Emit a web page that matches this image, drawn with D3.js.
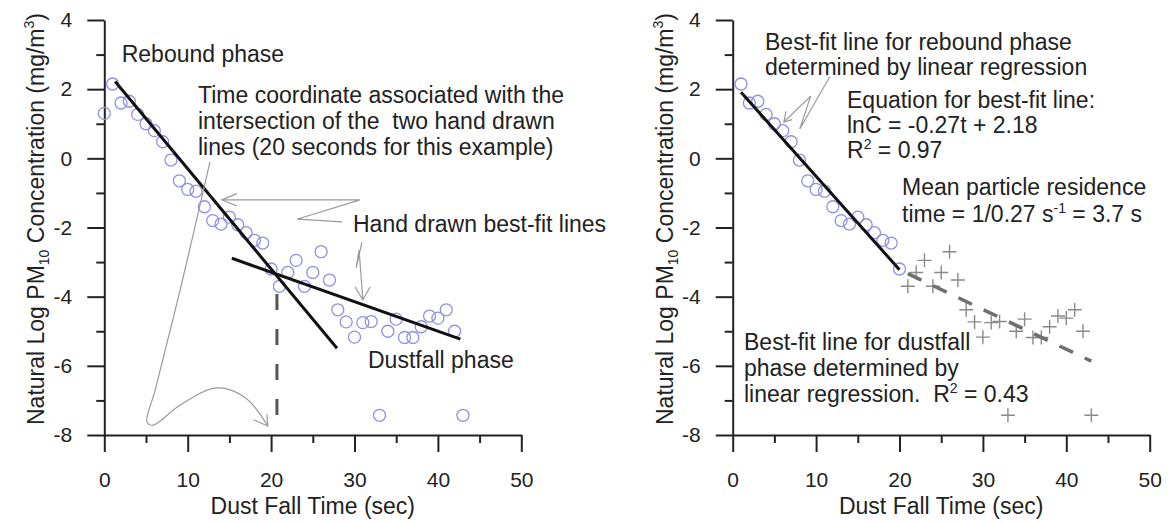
<!DOCTYPE html>
<html>
<head>
<meta charset="utf-8">
<script src="https://cdn.jsdelivr.net/npm/d3@7"></script>
<style>
  body { margin: 0; background: #fff; }
  svg { display: block; font-family: "Liberation Sans", Arial, sans-serif; }
  text { fill: #222; white-space: pre; }
</style>
</head>
<body>
<script>
// ---------------------------------------------------------------------------
// data
// ---------------------------------------------------------------------------
var times = [0, 1, 2, 3, 4, 5, 6, 7, 8, 9, 10, 11, 12, 13, 14, 15, 16, 17, 18, 19, 20, 21,
             22, 23, 24, 25, 26, 27, 28, 29, 30, 31, 32, 33, 34, 35, 36, 37, 38, 39, 40, 41, 42, 43];
var lnConc = [1.3, 2.15, 1.6, 1.65, 1.27, 1.0, 0.8, 0.48, -0.05, -0.65, -0.9, -0.95, -1.4, -1.8,
              -1.9, -1.7, -1.92, -2.15, -2.37, -2.45, -3.2, -3.7, -3.3, -2.95, -3.7, -3.3, -2.7,
              -3.52, -4.38, -4.73, -5.17, -4.75, -4.72, -7.43, -5.0, -4.65, -5.18, -5.18, -4.87,
              -4.56, -4.62, -4.38, -5.0, -7.43];

// hand drawn lines of the left panel (t, lnC end points)
var handRebound = [[1.3, 2.22], [27.9, -5.49]];
var handDustfall = [[15.3, -2.89], [42.7, -5.23]];
var crossTime = 20.7, crossLnC = -3.4;

// regression fits of the right panel
var reboundFit = { slope: -0.27, intercept: 2.18, from: 1, to: 20 };
var dustfallFit = { slope: -0.115, intercept: -0.92, from: 21, to: 43 };

var xTicksMajor = [0, 10, 20, 30, 40, 50], xTicksMinor = [5, 15, 25, 35, 45];
var yTicksMajor = [4, 2, 0, -2, -4, -6, -8], yTicksMinor = [3, 1, -1, -3, -5, -7];

var points = times.map(function(t, i) { return { t: t, c: lnConc[i] }; });

// ---------------------------------------------------------------------------
var width = 1169, height = 523;
var svg = d3.select("body").append("svg")
    .attr("width", width)
    .attr("height", height);

var ink = "#222", noteGrey = "#9a9a9a", circleCol = "#9090e4";

function panel(left) {
  var x = d3.scaleLinear().domain([0, 50]).range([left, left + 417]);
  var y = d3.scaleLinear().domain([4, -8]).range([20, 435]);
  var g = svg.append("g");

  var fmt = function(d) { return String(d); };
  g.append("g").attr("transform", "translate(" + left + ",0)")
      .call(d3.axisLeft(y).tickValues(yTicksMajor).tickSize(17).tickSizeOuter(0).tickPadding(15).tickFormat(fmt));
  g.append("g").attr("transform", "translate(" + left + ",0)")
      .call(d3.axisLeft(y).tickValues(yTicksMinor).tickSize(8).tickFormat(""))
      .select(".domain").remove();
  g.append("g").attr("transform", "translate(0,435)")
      .call(d3.axisBottom(x).tickValues(xTicksMajor).tickSize(17).tickSizeOuter(0).tickPadding(20).tickFormat(fmt));
  g.append("g").attr("transform", "translate(0,435)")
      .call(d3.axisBottom(x).tickValues(xTicksMinor).tickSize(8).tickFormat(""))
      .select(".domain").remove();

  g.selectAll(".domain, .tick line").attr("stroke", ink).attr("stroke-width", 2);
  g.selectAll(".tick text").attr("font-size", 21).attr("fill", ink)
      .attr("font-family", "Liberation Sans, Arial, sans-serif");

  g.append("text")
      .attr("x", x(25)).attr("y", 514)
      .attr("text-anchor", "middle").attr("font-size", 23)
      .text("Dust Fall Time (sec)");

  var yt = g.append("text")
      .attr("transform", "translate(" + (left - 60) + ",219) rotate(-90)")
      .attr("text-anchor", "middle").attr("font-size", 23);
  yt.append("tspan").text("Natural Log PM");
  yt.append("tspan").attr("font-size", 14).attr("dy", 5).text("10");
  yt.append("tspan").attr("dy", -5).text(" Concentration (mg/m");
  yt.append("tspan").attr("font-size", 14).attr("dy", -10).text("3");
  yt.append("tspan").attr("dy", 10).text(")");

  return { g: g, x: x, y: y };
}

function circles(p, data) {
  p.g.append("g").selectAll("circle")
      .data(data)
    .enter().append("circle")
      .attr("cx", function(d) { return p.x(d.t); })
      .attr("cy", function(d) { return p.y(d.c); })
      .attr("r", 6)
      .attr("fill", "none")
      .attr("stroke", circleCol)
      .attr("stroke-width", 1.3);
}

function note(p, pts, barbs) {
  var line = d3.line()
      .x(function(d) { return p.x(d[0]); })
      .y(function(d) { return p.y(d[1]); })
      .curve(d3.curveCatmullRom.alpha(0.5));
  p.g.append("path").attr("d", line(pts))
      .attr("fill", "none").attr("stroke", noteGrey).attr("stroke-width", 1.2);
  var tip = pts[pts.length - 1];
  var straight = d3.line().x(function(d) { return p.x(d[0]); }).y(function(d) { return p.y(d[1]); });
  p.g.append("path").attr("d", straight([barbs[0], tip, barbs[1]]))
      .attr("fill", "none").attr("stroke", noteGrey).attr("stroke-width", 1.2);
}

function polyNote(p, pts, barbs) {
  var straight = d3.line().x(function(d) { return p.x(d[0]); }).y(function(d) { return p.y(d[1]); });
  p.g.append("path").attr("d", straight(pts))
      .attr("fill", "none").attr("stroke", noteGrey).attr("stroke-width", 1.2);
  var tip = pts[pts.length - 1];
  p.g.append("path").attr("d", straight([barbs[0], tip, barbs[1]]))
      .attr("fill", "none").attr("stroke", noteGrey).attr("stroke-width", 1.2);
}

// text line; a {sup: "..."} part is raised and smaller, the next part drops back
function label(g, x, y, parts) {
  var t = g.append("text").attr("x", x).attr("y", y).attr("font-size", 23);
  var drop = 0;
  parts.forEach(function(s) {
    if (typeof s === "string") {
      var sp = t.append("tspan").text(s);
      if (drop) { sp.attr("dy", drop); drop = 0; }
    } else {
      t.append("tspan").attr("font-size", 14).attr("dy", -9).text(s.sup);
      drop = 9;
    }
  });
  return t;
}

// ---------------------------------------------------------------------------
// left panel: hand drawn lines
// ---------------------------------------------------------------------------
var L = panel(104.3);
circles(L, points);

var seg = d3.line().x(function(d) { return L.x(d[0]); }).y(function(d) { return L.y(d[1]); });
[handRebound, handDustfall].forEach(function(h) {
  L.g.append("path").attr("d", seg(h))
      .attr("stroke", "#111").attr("stroke-width", 3).attr("fill", "none");
});
L.g.append("line")
    .attr("x1", L.x(crossTime)).attr("x2", L.x(crossTime))
    .attr("y1", L.y(crossLnC)).attr("y2", L.y(-8) - 2)
    .attr("stroke", "#555").attr("stroke-width", 3)
    .attr("stroke-dasharray", "16,19").attr("stroke-dashoffset", -18);

note(L, [[12.67, -0.1], [9.1, -3.8], [6.1, -6.7], [5.12, -7.62], [5.8, -7.72],
         [9.1, -7.13], [13.5, -6.64], [16.9, -6.92], [19.6, -7.74]],
     [[17.9, -7.56], [19.5, -7.4]]);
polyNote(L, [[28.5, -1.84], [23.1, -1.76], [30.66, -1.2], [14.1, -1.2]],
         [[15.9, -1.02], [15.9, -1.38]]);
polyNote(L, [[30.9, -2.42], [30.2, -3.17], [30.55, -2.65], [31.0, -4.09]],
         [[30.07, -3.72], [31.87, -3.72]]);

label(L.g, 121.7, 62, ["Rebound phase"]);
label(L.g, 198, 103, ["Time coordinate associated with the"]);
label(L.g, 198, 129, ["intersection of the  two hand drawn"]);
label(L.g, 198, 155, ["lines (20 seconds for this example)"]);
label(L.g, 353, 232, ["Hand drawn best-fit lines"]);
label(L.g, 368, 368, ["Dustfall phase"]);

// ---------------------------------------------------------------------------
// right panel: regression lines
// ---------------------------------------------------------------------------
var R = panel(732.7);
circles(R, points.filter(function(d) { return d.t >= 1 && d.t <= 20; }));

var size = 7;
R.g.append("g").selectAll("path")
    .data(points.filter(function(d) { return d.t >= 21; }))
  .enter().append("path")
    .attr("d", function(d) {
      var cx = R.x(d.t), cy = R.y(d.c);
      return "M" + (cx - size) + "," + cy + "H" + (cx + size) + "M" + cx + "," + (cy - size) + "V" + (cy + size);
    })
    .attr("stroke", "#8a8a8a").attr("stroke-width", 1.4).attr("fill", "none");

function fitLine(f) {
  return [[f.from, f.intercept + f.slope * f.from], [f.to, f.intercept + f.slope * f.to]];
}
var segR = d3.line().x(function(d) { return R.x(d[0]); }).y(function(d) { return R.y(d[1]); });
R.g.append("path").attr("d", segR(fitLine(reboundFit)))
    .attr("stroke", "#111").attr("stroke-width", 3).attr("fill", "none");
R.g.append("path").attr("d", segR(fitLine(dustfallFit)))
    .attr("stroke", "#6e6e6e").attr("stroke-width", 3.5).attr("fill", "none")
    .attr("stroke-dasharray", "15,13");

polyNote(R, [[11.62, 2.35], [8.04, 0.85], [9.35, 1.8], [6.13, 1.05]],
         [[7.1, 1.12], [6.4, 1.36]]);

label(R.g, 765, 50, ["Best-fit line for rebound phase"]);
label(R.g, 765, 75, ["determined by linear regression"]);
label(R.g, 847, 108, ["Equation for best-fit line:"]);
label(R.g, 847, 133, ["lnC = -0.27t + 2.18"]);
label(R.g, 847, 158, ["R", { sup: "2" }, " = 0.97"]);
label(R.g, 902, 195, ["Mean particle residence"]);
label(R.g, 902, 222, ["time = 1/0.27 s", { sup: "-1" }, " = 3.7 s"]);
label(R.g, 744, 350, ["Best-fit line for dustfall"]);
label(R.g, 744, 376, ["phase determined by"]);
label(R.g, 744, 402, ["linear regression.  R", { sup: "2" }, " = 0.43"]);
</script>
</body>
</html>
